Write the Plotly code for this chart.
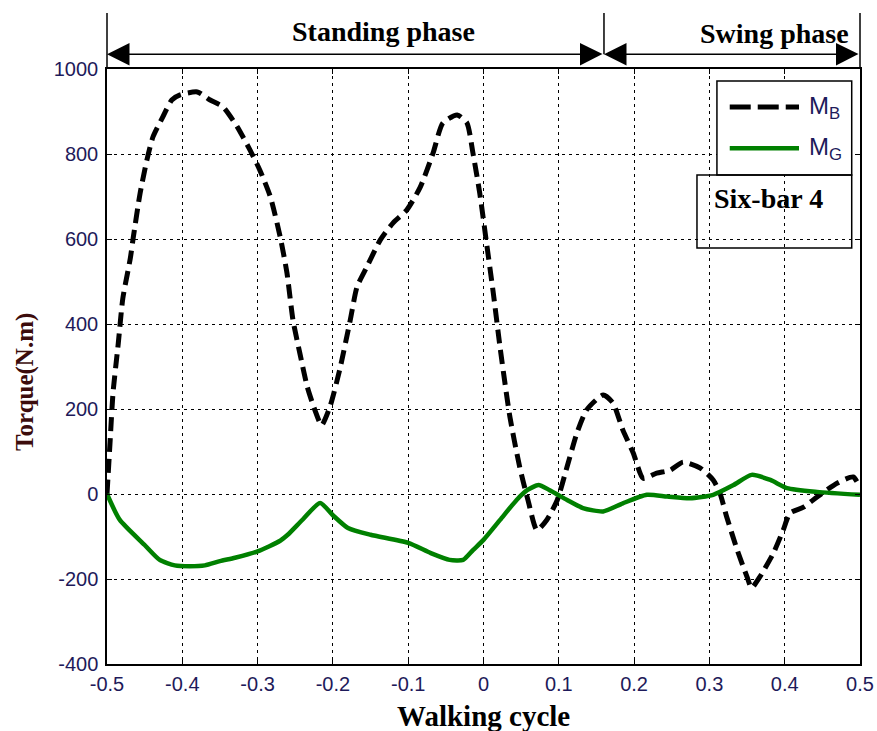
import plotly.graph_objects as go

# Walking-cycle axis and torque samples
mb_x = [-0.5, -0.496, -0.492, -0.485, -0.479, -0.469, -0.465, -0.456, -0.447, -0.439,
        -0.426, -0.414, -0.403, -0.380, -0.363, -0.346, -0.327, -0.310, -0.297, -0.283,
        -0.270, -0.261, -0.253, -0.244, -0.234, -0.224, -0.215, -0.204, -0.191, -0.177,
        -0.168, -0.155, -0.137, -0.120, -0.102, -0.084, -0.067, -0.054, -0.035, -0.022,
        -0.014, -0.005, 0.004, 0.013, 0.022, 0.035, 0.048, 0.059, 0.071, 0.084,
        0.098, 0.111, 0.124, 0.137, 0.159, 0.172, 0.185, 0.199, 0.212, 0.230,
        0.248, 0.265, 0.288, 0.305, 0.314, 0.323, 0.337, 0.350, 0.356, 0.367,
        0.385, 0.398, 0.407, 0.425, 0.443, 0.470, 0.491, 0.5]
mb_y = [0, 120, 238, 355, 460, 555, 605, 708, 786, 840,
        887, 927, 939, 946, 927, 911, 864, 809, 762, 699,
        605, 520, 409, 332, 252, 198, 162, 205, 292, 409,
        487, 534, 598, 638, 668, 722, 802, 873, 892, 873,
        802, 708, 591, 473, 345, 182, 64, -14, -85, -61,
        -14, 64, 143, 198, 233, 214, 151, 96, 37, 49,
        56, 75, 61, 33, 2, -54, -132, -195, -221, -195,
        -139, -85, -45, -31, -7, 26, 40, 16]

mg_x = [-0.5, -0.483, -0.45, -0.43, -0.41, -0.39, -0.37, -0.35, -0.33, -0.30,
        -0.27, -0.26, -0.24, -0.217, -0.20, -0.18, -0.15, -0.10, -0.07, -0.045,
        -0.027, -0.014, 0.0, 0.022, 0.044, 0.058, 0.073, 0.088, 0.111, 0.132,
        0.159, 0.185, 0.217, 0.244, 0.274, 0.305, 0.332, 0.356, 0.381, 0.403,
        0.443, 0.5]
mg_y = [0, -61, -120, -155, -168, -170, -168, -158, -150, -135,
        -110, -96, -60, -21, -50, -80, -96, -115, -139, -155,
        -155, -132, -108, -61, -14, 9, 21, 9, -14, -33,
        -41, -22, -2, -6, -10, -2, 21, 45, 33, 14,
        5, -2]

x_ticks = [-0.5, -0.4, -0.3, -0.2, -0.1, 0, 0.1, 0.2, 0.3, 0.4, 0.5]
x_tick_text = ["-0.5", "-0.4", "-0.3", "-0.2", "-0.1", "0", "0.1", "0.2", "0.3", "0.4", "0.5"]
y_ticks = [-400, -200, 0, 200, 400, 600, 800, 1000]
y_tick_text = ["-400", "-200", "0", "200", "400", "600", "800", "1000"]
phase_split = 0.16

SANS = "Liberation Sans Narrow, Arial Narrow, Liberation Sans, Arial"
SERIF = "Liberation Serif, Times New Roman, serif"
TICK_FONT = dict(family=SANS, size=20, color="#1e1a5a")

fig = go.Figure()
fig.add_trace(go.Scatter(x=mb_x, y=mb_y, mode="lines", name="M<sub>B</sub>",
                         line=dict(color="black", width=5, dash="14px,7px",
                                   shape="spline", smoothing=0.6)))
fig.add_trace(go.Scatter(x=mg_x, y=mg_y, mode="lines", name="M<sub>G</sub>",
                         line=dict(color="#008000", width=4.5, shape="spline", smoothing=0.6)))

axis_common = dict(showline=True, linecolor="black", linewidth=1.5, mirror="ticks",
                   ticks="inside", ticklen=5, tickcolor="black", automargin=False,
                   showgrid=True, gridcolor="black", gridwidth=1, griddash="3px,4px",
                   zeroline=False, tickfont=TICK_FONT)

fig.update_xaxes(range=[-0.5, 0.5], tickvals=x_ticks, ticktext=x_tick_text,
                 ticklabelstandoff=1, **axis_common)
fig.update_yaxes(range=[-400, 1000], tickvals=y_ticks, ticktext=y_tick_text,
                 ticklabelstandoff=3, **axis_common)

shapes = [
    # phase boundary lines above the plot
    dict(type="line", xref="paper", yref="paper", x0=0, x1=0, y0=1.0, y1=1.094,
         line=dict(color="black", width=1.5)),
    dict(type="line", xref="paper", yref="paper", x0=1, x1=1, y0=1.0, y1=1.094,
         line=dict(color="black", width=1.5)),
    dict(type="line", xref="paper", yref="paper",
         x0=phase_split + 0.5, x1=phase_split + 0.5, y0=1.025, y1=1.094,
         line=dict(color="black", width=1.5)),
    # legend box and labelled panel
    dict(type="rect", xref="paper", yref="paper", x0=0.810, x1=0.989, y0=0.822, y1=0.980,
         fillcolor="white", line=dict(color="black", width=1.5), layer="above"),
    dict(type="rect", xref="paper", yref="paper", x0=0.7835, x1=0.989, y0=0.699, y1=0.822,
         fillcolor="rgba(0,0,0,0)", line=dict(color="black", width=1.5), layer="above"),
    dict(type="line", xref="paper", yref="paper", x0=0.827, x1=0.919, y0=0.936, y1=0.936,
         line=dict(color="black", width=5, dash="21px,7px"), layer="above"),
    dict(type="line", xref="paper", yref="paper", x0=0.827, x1=0.919, y0=0.867, y1=0.867,
         line=dict(color="#008000", width=4.5), layer="above"),
]

LEG_FONT = dict(family=SANS, size=24, color="#1e1a5a")
annotations = [
    dict(xref="paper", yref="paper", x=0.929, y=0.936, text="M<sub>B</sub>", showarrow=False,
         xanchor="left", yanchor="middle", font=LEG_FONT),
    dict(xref="paper", yref="paper", x=0.929, y=0.867, text="M<sub>G</sub>", showarrow=False,
         xanchor="left", yanchor="middle", font=LEG_FONT),
    dict(xref="paper", yref="paper", x=0.879, y=0.783, text="<b>Six-bar 4</b>", showarrow=False,
         xanchor="center", yanchor="middle", font=dict(family=SERIF, size=28, color="black")),
    dict(xref="x", yref="paper", x=-0.133, y=1.063, text="<b>Standing phase</b>", showarrow=False,
         xanchor="center", yanchor="middle", font=dict(family=SERIF, size=28, color="black")),
    dict(xref="x", yref="paper", x=0.387, y=1.060, text="<b>Swing phase</b>", showarrow=False,
         xanchor="center", yanchor="middle", font=dict(family=SERIF, size=28, color="black")),
    # axis titles
    dict(xref="paper", yref="paper", x=0.5, y=-0.0876, text="<b>Walking cycle</b>", showarrow=False,
         xanchor="center", yanchor="middle", font=dict(family=SERIF, size=29, color="black")),
    dict(xref="paper", yref="paper", x=-0.109, y=0.474, text="<b>Torque(N.m)</b>", showarrow=False,
         xanchor="center", yanchor="middle", textangle=-90,
         font=dict(family=SERIF, size=25, color="#3c0c0c")),
]
# double-headed phase arrows
for x_a, x_b in [(-0.5, phase_split), (phase_split, 0.5)]:
    annotations.append(dict(xref="x", yref="paper", x=x_a, y=1.025, axref="x", ayref="pixel",
                            ax=x_b, ay=0, text="", showarrow=True, arrowhead=2, startarrowhead=2,
                            arrowside="end+start", arrowsize=3, startarrowsize=3,
                            arrowwidth=1.5, arrowcolor="black"))

fig.update_layout(width=877, height=731, margin=dict(l=107, r=17, t=69, b=67),
                  paper_bgcolor="white", plot_bgcolor="white", showlegend=False,
                  shapes=shapes, annotations=annotations)

fig.write_html("out.html")
